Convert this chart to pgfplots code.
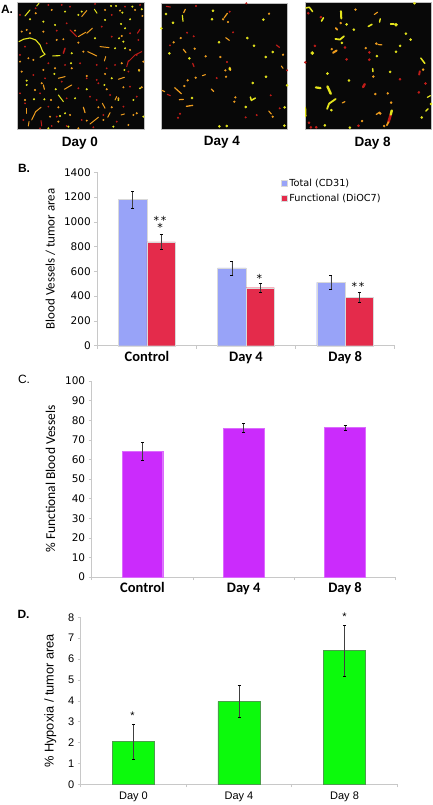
\documentclass[border=0pt]{standalone}
\usepackage{pgfplots}
\pgfplotsset{compat=1.18}
\usepackage{fontspec}
\setmainfont{Liberation Sans}
\newfontfamily\dejavu{DejaVu Sans}
\newfontfamily\carlito{Carlito}
\newcommand{\fs}[1]{\fontsize{#1}{#1}\selectfont}
\definecolor{blueb}{HTML}{98A3F8}
\definecolor{redb}{HTML}{E42B4B}
\definecolor{purp}{HTML}{CB2BFC}
\definecolor{gree}{HTML}{0CFA0C}
\definecolor{ax}{HTML}{C8C8C8}
\definecolor{ye}{HTML}{E4E41C}
\definecolor{orn}{HTML}{EE9C1E}
\definecolor{rd}{HTML}{C01C18}
\pgfplotsset{
 imgpanel/.style={scale only axis,width=126.7pt,height=126.7pt,axis background/.style={fill=black!97},
   xmin=8,xmax=388,ymin=8,ymax=388,y dir=reverse,ticks=none,axis line style={draw=black!25,line width=0.5pt},clip=true},
 yd/.style={ye,only marks,mark=*,mark size=#1,mark options={draw=none,fill=ye}},
 od/.style={orn,only marks,mark=*,mark size=#1,mark options={draw=none,fill=orn}},
 rdd/.style={rd,only marks,mark=*,mark size=#1,mark options={draw=none,fill=rd}},
 vessel/.style={line width=#1,line cap=round,line join=round,no marks},
 chart/.style={scale only axis,axis x line*=bottom,axis y line*=left,axis line style={draw=ax,line width=0.6pt},
   tick style={draw=ax,line width=0.6pt},major tick length=3pt,tick align=outside,clip=false,
   xmin=-0.5,xmax=2.5,xtick={-0.5,0.5,1.5,2.5},xticklabels={},
   extra x ticks={0,1,2},
   /pgf/number format/assume math mode=true,/pgf/number format/1000 sep={},
   error bars/y dir=both,error bars/y explicit,
   error bars/error mark options={rotate=90,mark size=1.5pt,line width=0.5pt},
   error bars/error bar style={line width=0.6pt,draw=black!75}},
}
\begin{document}
\begin{tikzpicture}
\path[use as bounding box] (0pt,0pt) rectangle (433pt,-805pt);

% ---------- Panel A
\begin{axis}[imgpanel,at={(17.7pt,-129.3pt)},anchor=south west]
\addplot[ye,vessel=1.1pt] coordinates {(12,125)(25,118)(45,114)(62,120)(75,135)(83,155)(90,163)(75,172)};
\addplot[ye,vessel=1.1pt] coordinates {(113,168)(135,167)};
\addplot[ye,vessel=1pt] coordinates {(30,48)(45,30)};
\addplot[ye,vessel=1pt] coordinates {(65,18)(72,10)};
\addplot[ye,vessel=1pt] coordinates {(130,285)(145,305)};
\addplot[ye,vessel=1pt] coordinates {(238,28)(246,40)};
\addplot[orn,vessel=1pt] coordinates {(200,50)(215,32)};
\addplot[orn,vessel=1pt] coordinates {(190,110)(212,97)};
\addplot[orn,vessel=1pt] coordinates {(215,100)(232,85)};
\addplot[orn,vessel=1pt] coordinates {(255,140)(282,143)};
\addplot[orn,vessel=1pt] coordinates {(218,155)(245,168)};
\addplot[orn,vessel=1pt] coordinates {(148,268)(170,255)};
\addplot[orn,vessel=1pt] coordinates {(130,235)(150,230)};
\addplot[orn,vessel=1pt] coordinates {(310,238)(328,232)};
\addplot[orn,vessel=1pt] coordinates {(35,325)(35,340)};
\addplot[orn,vessel=1pt] coordinates {(50,360)(62,335)(78,322)};
\addplot[orn,vessel=1pt] coordinates {(40,378)(42,365)};
\addplot[orn,vessel=1pt] coordinates {(262,310)(270,325)};
\addplot[orn,vessel=1.2pt] coordinates {(205,322)(210,338)};
\addplot[orn,vessel=1pt] coordinates {(225,372)(250,352)};
\addplot[orn,vessel=1pt] coordinates {(318,345)(328,342)};
\addplot[orn,vessel=1pt] coordinates {(278,352)(285,338)};
\addplot[orn,vessel=1.1pt] coordinates {(85,255)(88,268)};
\addplot[orn,vessel=1pt] coordinates {(268,183)(272,170)};
\addplot[orn,vessel=1pt] coordinates {(300,300)(305,290)};
\addplot[rd,vessel=1pt] coordinates {(340,185)(360,165)(380,155)};
\addplot[rd,vessel=1pt] coordinates {(335,200)(340,182)};
\addplot[rd,vessel=1.4pt] coordinates {(145,160)(150,145)};
\addplot[rd,vessel=1pt] coordinates {(78,362)(80,378)};
\addplot[rd,vessel=1pt] coordinates {(165,90)(185,110)};
\addplot[rd,vessel=1pt] coordinates {(367,100)(375,88)};
\addplot[yd=0.8pt] coordinates {(35,242)(45,58)(85,65)(120,75)(150,35)(190,45)(288,18)(303,18)(322,38)(352,20)(380,28)(318,72)(330,85)(312,115)(325,125)(330,145)(300,145)(270,60)(240,115)(170,160)(118,222)(168,190)(290,235)(372,212)(355,300)(375,265)(268,255)(215,268)(122,268)(88,298)(57,298)(180,295)(135,348)(150,340)(295,380)(385,350)(160,380)(100,385)(35,255)(328,210)(310,300)(345,58)(200,35)};
\addplot[od=0.8pt] coordinates {(20,95)(35,90)(45,100)(62,40)(85,95)(110,30)(125,120)(145,118)(180,92)(190,128)(205,155)(270,30)(315,32)(360,30)(382,48)(320,108)(345,150)(385,185)(372,210)(320,190)(270,222)(215,228)(170,205)(120,205)(85,210)(55,180)(40,175)(20,215)(60,270)(80,250)(30,300)(108,300)(130,322)(165,345)(215,362)(250,322)(275,268)(325,262)(380,262)(310,295)(290,322)(355,345)(365,340)(340,375)(265,360)(190,385)(105,350)(130,365)(15,185)};
\addplot[rdd=0.7pt] coordinates {(15,45)(62,25)(100,15)(140,15)(165,20)(240,12)(290,45)(330,20)(375,15)(345,100)(290,110)(260,80)(155,70)(125,92)(95,130)(30,140)(15,165)(100,190)(150,195)(195,190)(245,195)(300,195)(340,215)(245,240)(215,235)(140,245)(90,235)(55,225)(15,280)(30,310)(75,280)(100,320)(155,295)(190,265)(225,290)(245,300)(285,285)(345,260)(365,290)(325,320)(305,365)(265,345)(200,360)(125,350)(110,378)(75,385)(25,360)(155,378)(235,382)(370,120)(365,165)(275,205)(250,250)};
\end{axis}
\begin{axis}[imgpanel,at={(161pt,-129.7pt)},anchor=south west,xmin=9,xmax=389,ymin=9,ymax=389]
\addplot[rd,vessel=1.1pt] coordinates {(25,19)(37,21)};
\addplot[ye,vessel=1.2pt] coordinates {(73,46)(75,64)};
\addplot[orn,vessel=1.2pt] coordinates {(77,38)(82,28)};
\addplot[orn,vessel=1.2pt] coordinates {(198,54)(208,40)};
\addplot[orn,vessel=1.1pt] coordinates {(203,113)(214,121)};
\addplot[orn,vessel=1.2pt] coordinates {(76,148)(84,158)};
\addplot[rd,vessel=1.2pt] coordinates {(104,190)(108,200)};
\addplot[orn,vessel=1.2pt] coordinates {(50,263)(70,281)};
\addplot[orn,vessel=1.1pt] coordinates {(12,271)(20,275)};
\addplot[rd,vessel=1.1pt] coordinates {(28,283)(37,287)};
\addplot[orn,vessel=1.2pt] coordinates {(64,299)(76,298)};
\addplot[orn,vessel=1.3pt] coordinates {(85,319)(104,316)};
\addplot[orn,vessel=1.1pt] coordinates {(133,227)(142,224)};
\addplot[rd,vessel=1.2pt] coordinates {(355,135)(364,142)};
\addplot[orn,vessel=1.1pt] coordinates {(332,333)(340,342)};
\addplot[orn,vessel=1.2pt] coordinates {(160,267)(167,274)};
\addplot[orn,vessel=1.1pt] coordinates {(370,198)(375,205)};
\addplot[ye,vessel=1.5pt] coordinates {(277,291)(280,301)(292,294)};
\addplot[orn,vessel=2pt] coordinates {(215,203)(217,210)};
\addplot[yd=1.1pt] coordinates {(94,175)(215,207)(45,68)(316,59)(268,114)(387,256)(24,42)(10,85)(165,32)(162,58)(183,127)(34,160)(344,156)(284,249)(102,294)(380,322)(206,378)(379,377)(184,379)(263,321)(324,230)(323,171)(288,137)};
\addplot[od=0.9pt] coordinates {(68,114)(143,169)(187,171)(375,164)(202,211)(89,241)(79,258)(113,233)(204,230)(232,292)(229,305)(333,41)(47,127)(110,146)(195,58)(210,66)(344,350)};
\addplot[rdd=0.8pt] coordinates {(114,18)(265,10)(215,35)(87,98)(107,109)(225,97)(36,136)(207,186)(387,211)(176,234)(338,286)(365,325)(296,345)(263,352)(66,341)(60,353)};
\end{axis}
\begin{axis}[imgpanel,at={(305pt,-129pt)},anchor=south west,xmin=12,xmax=396,ymin=5,ymax=389]
\addplot[ye,vessel=1.5pt] coordinates {(15,22)(25,20)(35,33)};
\addplot[ye,vessel=2pt] coordinates {(121,32)(122,54)};
\addplot[ye,vessel=1.6pt] coordinates {(62,62)(68,52)};
\addplot[ye,vessel=1.6pt] coordinates {(204,78)(215,72)};
\addplot[ye,vessel=1.4pt] coordinates {(238,65)(240,55)};
\addplot[ye,vessel=1.2pt] coordinates {(271,71)(282,71)};
\addplot[ye,vessel=1.8pt] coordinates {(104,116)(118,118)(130,108)};
\addplot[orn,vessel=2pt] coordinates {(97,158)(108,151)};
\addplot[orn,vessel=1.8pt] coordinates {(105,83)(110,88)};
\addplot[ye,vessel=1.5pt] coordinates {(363,174)(375,190)};
\addplot[ye,vessel=1.5pt] coordinates {(217,206)(218,215)};
\addplot[ye,vessel=2.2pt] coordinates {(45,263)(59,265)};
\addplot[ye,vessel=2.4pt] coordinates {(80,260)(90,282)};
\addplot[ye,vessel=1.8pt] coordinates {(79,328)(85,312)(105,298)};
\addplot[orn,vessel=1.2pt] coordinates {(125,310)(133,306)};
\addplot[orn,vessel=1.2pt] coordinates {(233,133)(245,134)};
\addplot[ye,vessel=2.4pt] coordinates {(12,325)(13,350)};
\addplot[rd,vessel=2.4pt] coordinates {(188,262)(193,253)};
\addplot[rd,vessel=2pt] coordinates {(358,224)(360,214)};
\addplot[rd,vessel=2.6pt] coordinates {(265,368)(272,345)};
\addplot[ye,vessel=2.4pt] coordinates {(272,345)(275,333)};
\addplot[orn,vessel=1.6pt] coordinates {(265,368)(260,378)};
\addplot[orn,vessel=1.3pt] coordinates {(228,345)(238,338)};
\addplot[ye,vessel=1.4pt] coordinates {(378,335)(385,328)};
\addplot[ye,vessel=1.2pt] coordinates {(383,293)(392,288)};
\addplot[orn,vessel=1.1pt] coordinates {(222,42)(232,35)};
\addplot[yd=1.6pt] coordinates {(34,159)(288,73)};
\addplot[yd=1.1pt] coordinates {(145,242)(160,88)(300,137)(318,100)(332,118)(138,72)(124,128)(344,8)(80,221)(366,354)(394,313)(148,385)(230,168)(288,155)(270,216)(92,332)(72,378)};
\addplot[od=1pt] coordinates {(120,68)(165,27)(196,144)(228,130)(93,147)(370,209)(219,230)(225,283)(263,281)(273,309)(185,365)(240,342)(252,380)};
\addplot[rdd=1.1pt] coordinates {(300,238)(377,251)(207,157)(138,178)(207,179)(133,142)(42,137)(357,278)(174,379)(46,384)(30,384)(24,370)(13,187)(60,50)(22,38)};
\end{axis}
\node[anchor=west,font=\fs{12}\bfseries] at (-2.5pt,-9pt) {A.};
\node[font=\fs{13.5}] at (80pt,-143pt) {\textbf{Day 0}};
\node[font=\fs{13.5}] at (222pt,-142pt) {\textbf{Day 4}};
\node[font=\fs{13.5}] at (372.7pt,-143pt) {\textbf{Day 8}};

% ---------- Panel B
\node[anchor=west,font=\fs{12}\bfseries] at (14.5pt,-168pt) {B.};
\begin{axis}[chart,at={(97.3pt,-345.7pt)},anchor=south west,width=297.4pt,height=173.4pt,
  ymin=0,ymax=1400,ytick={0,200,...,1400},ybar=0pt,bar width=28.4pt,
  extra x tick labels={\carlito\bfseries\fs{14.5}Control,\carlito\bfseries\fs{14.5}Day 4,\carlito\bfseries\fs{14.5}Day 8},
  extra x tick style={major tick length=0pt,tick label style={yshift=-2pt,text height=10pt,text depth=3pt}},
  yticklabel style={font=\dejavu\fs{10.5}},
  ylabel={\carlito\fs{12.9}Blood Vessels / tumor area},ylabel style={yshift=2pt},
  legend style={draw=none,fill=none,at={(0.617,0.975)},anchor=north west,font=\dejavu\fs{9.7},row sep=2.5pt,inner sep=0pt,/tikz/every even column/.style={column sep=4pt}},
  legend cell align=left,
  legend image code/.code={\fill[#1] (0,-3pt) rectangle (6pt,3pt);}]
\addplot[fill=blueb,draw=black!15,line width=0.4pt] coordinates {(0,1180) +- (0,70) (1,628) +- (0,57) (2,512) +- (0,54)};
\addplot[fill=redb,draw=black!15,line width=0.4pt] coordinates {(0,838) +- (0,63) (1,468) +- (0,39) (2,390) +- (0,40)};
\legend{Total (CD31),Functional (DiOC7)}
\node[font=\dejavu\fs{11}] at (axis cs:0.133,1015) {*\,*};
\node[font=\dejavu\fs{11}] at (axis cs:0.133,957) {*};
\node[font=\dejavu\fs{11}] at (axis cs:1.135,547) {*};
\node[font=\dejavu\fs{11}] at (axis cs:2.13,477) {*\,*};
\end{axis}

% ---------- Panel C
\node[anchor=west,font=\fs{12}] at (14.5pt,-379pt) {C.};
\begin{axis}[chart,at={(91.7pt,-577pt)},anchor=south west,width=304pt,height=196pt,
  ymin=0,ymax=100,ytick={0,10,...,100},ybar=0pt,bar width=40.7pt,
  extra x tick labels={\carlito\bfseries\fs{14.5}Control,\carlito\bfseries\fs{14.5}Day 4,\carlito\bfseries\fs{14.5}Day 8},
  extra x tick style={major tick length=0pt,tick label style={yshift=-2pt,text height=10pt,text depth=3pt}},
  yticklabel style={font=\dejavu\fs{10.5}},
  ylabel={\carlito\fs{13.5}\% Functional Blood Vessels},ylabel style={yshift=3pt}]
\addplot[fill=purp,draw=purp!70!white,line width=0.4pt] coordinates {(0,64) +- (0,4.6) (1,76) +- (0,2.4) (2,76.2) +- (0,1.3)};
\end{axis}

% ---------- Panel D
\node[anchor=west,font=\fs{12}\bfseries] at (14pt,-614pt) {D.};
\begin{axis}[chart,at={(80.7pt,-784.3pt)},anchor=south west,width=316.6pt,height=167pt,
  ymin=0,ymax=8,ytick={0,1,...,8},ybar=0pt,bar width=42.3pt,
  extra x tick labels={\fs{11}Day 0,\fs{11}Day 4,\fs{11}Day 8},
  extra x tick style={major tick length=0pt,tick label style={yshift=-4pt,text height=8pt,text depth=2pt}},
  yticklabel style={font=\fs{11}},
  ylabel={\fs{12.8}\% Hypoxia / tumor area},ylabel style={yshift=5pt}]
\addplot[fill=gree,draw=green!45!black!70,line width=0.6pt] coordinates {(0,2.05) +- (0,0.85) (1,3.97) +- (0,0.755) (2,6.4) +- (0,1.225)};
\node[font=\fs{11}] at (axis cs:-0.01,3.3) {*};
\node[font=\fs{11}] at (axis cs:2.0,8.05) {*};
\end{axis}
\end{tikzpicture}
\end{document}
